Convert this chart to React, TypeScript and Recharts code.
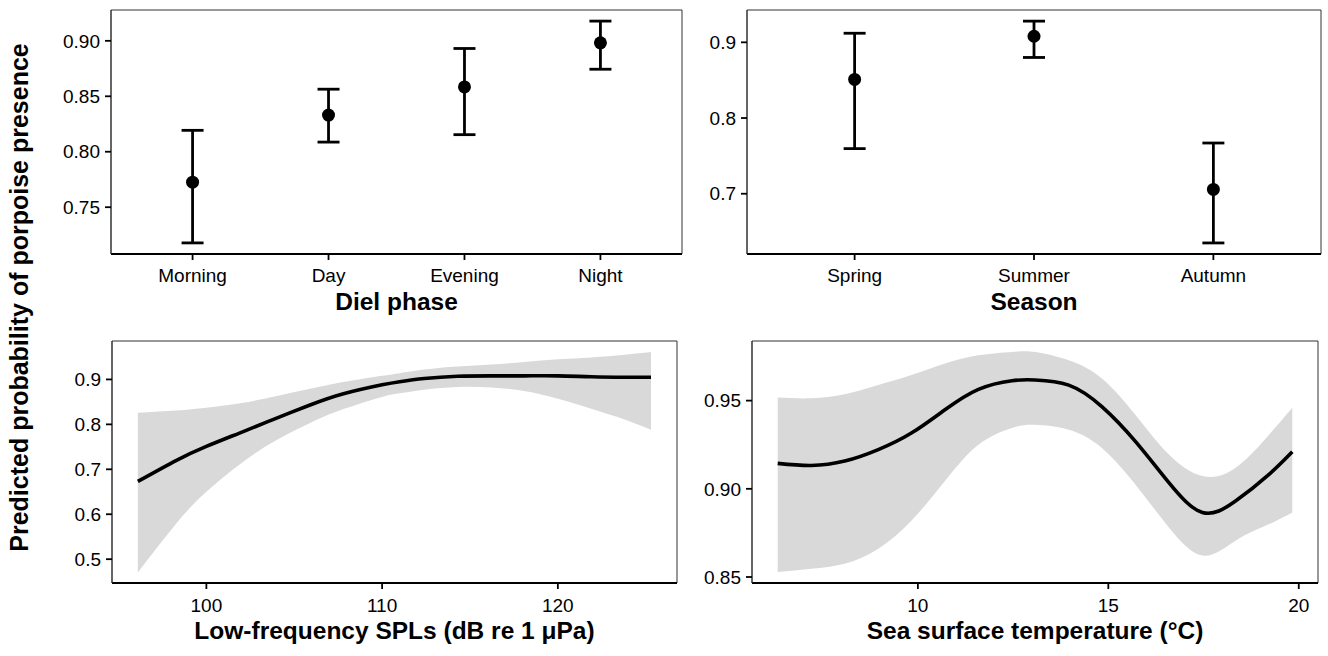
import { Area, ComposedChart, ErrorBar, Line, ReferenceArea, XAxis, YAxis } from 'recharts';

const FONT = '"Liberation Sans", Arial, sans-serif';

// Diel phase: predicted probability with 95% CI
const dielPhases = ['Morning', 'Day', 'Evening', 'Night'];
const dielMean = [0.7726, 0.8331, 0.8584, 0.8982];
const dielLower = [0.7178, 0.8087, 0.8154, 0.8744];
const dielUpper = [0.8193, 0.8564, 0.8931, 0.9178];
const dielYTicks = [0.75, 0.8, 0.85, 0.9];

// Season
const seasons = ['Spring', 'Summer', 'Autumn'];
const seasonMean = [0.851, 0.908, 0.7057];
const seasonLower = [0.7596, 0.88, 0.635];
const seasonUpper = [0.912, 0.928, 0.767];
const seasonYTicks = [0.7, 0.8, 0.9];

// Low-frequency SPL smooth
const splX = [96.1, 98.3, 100, 102.1, 104, 105.9, 107.8, 110, 111, 112.4, 114.3, 116.2, 118.1, 120, 121.9, 123.8, 125.3];
const splFit = [0.673, 0.72, 0.751, 0.784, 0.814, 0.843, 0.868, 0.888, 0.895, 0.902, 0.907, 0.908, 0.908, 0.908, 0.906, 0.905, 0.905];
const splLower = [0.4705, 0.58, 0.65, 0.717, 0.765, 0.803, 0.834, 0.861, 0.869, 0.877, 0.883, 0.882, 0.874, 0.857, 0.835, 0.811, 0.788];
const splUpper = [0.826, 0.831, 0.837, 0.848, 0.863, 0.879, 0.894, 0.908, 0.914, 0.922, 0.929, 0.933, 0.939, 0.945, 0.949, 0.955, 0.961];
const splXTicks = [100, 110, 120];
const splYTicks = [0.5, 0.6, 0.7, 0.8, 0.9];

// Sea surface temperature smooth
const sstX = [6.32, 7.2, 8.08, 8.96, 9.83, 10.71, 11.59, 12.47, 13.08, 13.96, 14.83, 15.71, 16.59, 17.47, 18.34, 19.22, 19.83];
const sstFit = [0.9144, 0.9132, 0.9157, 0.9222, 0.9316, 0.9448, 0.9564, 0.9613, 0.9617, 0.9588, 0.9466, 0.9269, 0.9035, 0.8866, 0.8931, 0.9082, 0.921];
const sstLower = [0.8528, 0.8547, 0.8575, 0.866, 0.8819, 0.9044, 0.925, 0.9345, 0.9363, 0.9335, 0.9232, 0.9025, 0.8781, 0.8622, 0.8706, 0.88, 0.8866];
const sstUpper = [0.9517, 0.9513, 0.9536, 0.9588, 0.9645, 0.971, 0.9757, 0.9776, 0.9776, 0.9729, 0.9626, 0.942, 0.9194, 0.9072, 0.9119, 0.9307, 0.946];
const sstXTicks = [10, 15, 20];
const sstYTicks = [0.85, 0.9, 0.95];

const tickStyle = { fill: '#000', fontSize: 19, fontFamily: FONT };
const titleStyle = { fill: '#000', fontSize: 24.5, fontWeight: 700, fontFamily: FONT };
const yAxisLine = { stroke: '#333', strokeWidth: 1 };
const xAxisLine = { stroke: '#000', strokeWidth: 2 };
const tickLine = { stroke: '#000', strokeWidth: 1.8 };

type Layout = {
  left: number;
  top: number;
  width: number;
  height: number;
  yAxisWidth: number;
  marginTop: number;
  marginRight: number;
  xAxisHeight: number;
  titleOffset: number;
  tickGap: number;
};

function PointPanel({
  names,
  mean,
  lower,
  upper,
  yTicks,
  yDomain,
  digits,
  title,
  box,
}: {
  names: string[];
  mean: number[];
  lower: number[];
  upper: number[];
  yTicks: number[];
  yDomain: [number, number];
  digits: number;
  title: string;
  box: Layout;
}) {
  const data = names.map((name, i) => ({
    pos: i + 1,
    name,
    mean: mean[i],
    err: [mean[i] - lower[i], upper[i] - mean[i]],
  }));
  const xDomain: [number, number] = [0.4, names.length + 0.6];

  return (
    <div style={{ position: 'absolute', left: box.left, top: box.top }}>
      <ComposedChart
        width={box.width}
        height={box.height}
        data={data}
        margin={{ top: box.marginTop, right: box.marginRight, bottom: 0, left: 0 }}
      >
        <XAxis
          type="number"
          dataKey="pos"
          domain={xDomain}
          ticks={data.map((d) => d.pos)}
          tickFormatter={(v: number) => names[v - 1]}
          interval={0}
          allowDataOverflow
          height={box.xAxisHeight}
          tick={tickStyle}
          tickSize={6}
          tickMargin={box.tickGap}
          tickLine={tickLine}
          axisLine={xAxisLine}
          label={{ value: title, position: 'insideBottom', offset: box.titleOffset, style: titleStyle }}
        />
        <YAxis
          type="number"
          domain={yDomain}
          ticks={yTicks}
          tickFormatter={(v: number) => v.toFixed(digits)}
          interval={0}
          allowDataOverflow
          width={box.yAxisWidth}
          tick={tickStyle}
          tickSize={6}
          tickMargin={5}
          tickLine={tickLine}
          axisLine={yAxisLine}
        />
        <ReferenceArea
          x1={xDomain[0]}
          x2={xDomain[1]}
          y1={yDomain[0]}
          y2={yDomain[1]}
          fill="none"
          stroke="#333"
          strokeWidth={1}
          ifOverflow="visible"
        />
        <Line
          dataKey="mean"
          stroke="none"
          strokeWidth={0}
          dot={{ r: 6.5, fill: '#000', stroke: '#000', strokeWidth: 0 }}
          activeDot={false}
          isAnimationActive={false}
        >
          <ErrorBar dataKey="err" direction="y" width={11} strokeWidth={2.8} stroke="#000" isAnimationActive={false} />
        </Line>
      </ComposedChart>
    </div>
  );
}

function SmoothPanel({
  xs,
  fit,
  lower,
  upper,
  xTicks,
  yTicks,
  xDomain,
  yDomain,
  digits,
  title,
  box,
}: {
  xs: number[];
  fit: number[];
  lower: number[];
  upper: number[];
  xTicks: number[];
  yTicks: number[];
  xDomain: [number, number];
  yDomain: [number, number];
  digits: number;
  title: string;
  box: Layout;
}) {
  const data = xs.map((x, i) => ({ x, fit: fit[i], band: [lower[i], upper[i]] }));

  return (
    <div style={{ position: 'absolute', left: box.left, top: box.top }}>
      <ComposedChart
        width={box.width}
        height={box.height}
        data={data}
        margin={{ top: box.marginTop, right: box.marginRight, bottom: 0, left: 0 }}
      >
        <XAxis
          type="number"
          dataKey="x"
          domain={xDomain}
          ticks={xTicks}
          interval={0}
          allowDataOverflow
          height={box.xAxisHeight}
          tick={tickStyle}
          tickSize={6}
          tickMargin={box.tickGap}
          tickLine={tickLine}
          axisLine={xAxisLine}
          label={{ value: title, position: 'insideBottom', offset: box.titleOffset, style: titleStyle }}
        />
        <YAxis
          type="number"
          domain={yDomain}
          ticks={yTicks}
          tickFormatter={(v: number) => v.toFixed(digits)}
          interval={0}
          allowDataOverflow
          width={box.yAxisWidth}
          tick={tickStyle}
          tickSize={6}
          tickMargin={5}
          tickLine={tickLine}
          axisLine={yAxisLine}
        />
        <Area
          type="natural"
          dataKey="band"
          stroke="none"
          fill="#d9d9d9"
          fillOpacity={1}
          activeDot={false}
          isAnimationActive={false}
        />
        <Line
          type="natural"
          dataKey="fit"
          stroke="#000"
          strokeWidth={3.6}
          dot={false}
          activeDot={false}
          isAnimationActive={false}
        />
        <ReferenceArea
          x1={xDomain[0]}
          x2={xDomain[1]}
          y1={yDomain[0]}
          y2={yDomain[1]}
          fill="none"
          stroke="#333"
          strokeWidth={1}
          ifOverflow="visible"
        />
      </ComposedChart>
    </div>
  );
}

export default function App() {
  return (
    <div style={{ position: 'absolute', left: 0, top: 0, width: 1328, height: 656, background: '#fff', overflow: 'hidden' }}>
      <PointPanel
        names={dielPhases}
        mean={dielMean}
        lower={dielLower}
        upper={dielUpper}
        yTicks={dielYTicks}
        yDomain={[0.7078, 0.9278]}
        digits={2}
        title="Diel phase"
        box={{ left: 0, top: 0, width: 700, height: 320, yAxisWidth: 111, marginTop: 10, marginRight: 18, xAxisHeight: 66, titleOffset: 10, tickGap: 9 }}
      />
      <PointPanel
        names={seasons}
        mean={seasonMean}
        lower={seasonLower}
        upper={seasonUpper}
        yTicks={seasonYTicks}
        yDomain={[0.6204, 0.9427]}
        digits={1}
        title="Season"
        box={{ left: 640, top: 0, width: 688, height: 320, yAxisWidth: 107, marginTop: 10, marginRight: 7, xAxisHeight: 66, titleOffset: 10, tickGap: 9 }}
      />
      <SmoothPanel
        xs={splX}
        fit={splFit}
        lower={splLower}
        upper={splUpper}
        xTicks={splXTicks}
        yTicks={splYTicks}
        xDomain={[94.63, 126.78]}
        yDomain={[0.447, 0.9855]}
        digits={1}
        title="Low-frequency SPLs (dB re 1 μPa)"
        box={{ left: 0, top: 320, width: 690, height: 336, yAxisWidth: 112, marginTop: 21, marginRight: 13, xAxisHeight: 73, titleOffset: 17, tickGap: 10 }}
      />
      <SmoothPanel
        xs={sstX}
        fit={sstFit}
        lower={sstLower}
        upper={sstUpper}
        xTicks={sstXTicks}
        yTicks={sstYTicks}
        xDomain={[5.645, 20.505]}
        yDomain={[0.8466, 0.9838]}
        digits={2}
        title="Sea surface temperature (°C)"
        box={{ left: 640, top: 320, width: 688, height: 336, yAxisWidth: 112, marginTop: 21, marginRight: 10, xAxisHeight: 73, titleOffset: 17, tickGap: 10 }}
      />
      <svg width={60} height={656} style={{ position: 'absolute', left: 0, top: 0 }}>
        <text
          transform="translate(28, 297.5) rotate(-90)"
          textAnchor="middle"
          style={{ fontSize: 25, fontWeight: 700, fontFamily: FONT, fill: '#000' }}
        >
          Predicted probability of porpoise presence
        </text>
      </svg>
    </div>
  );
}
